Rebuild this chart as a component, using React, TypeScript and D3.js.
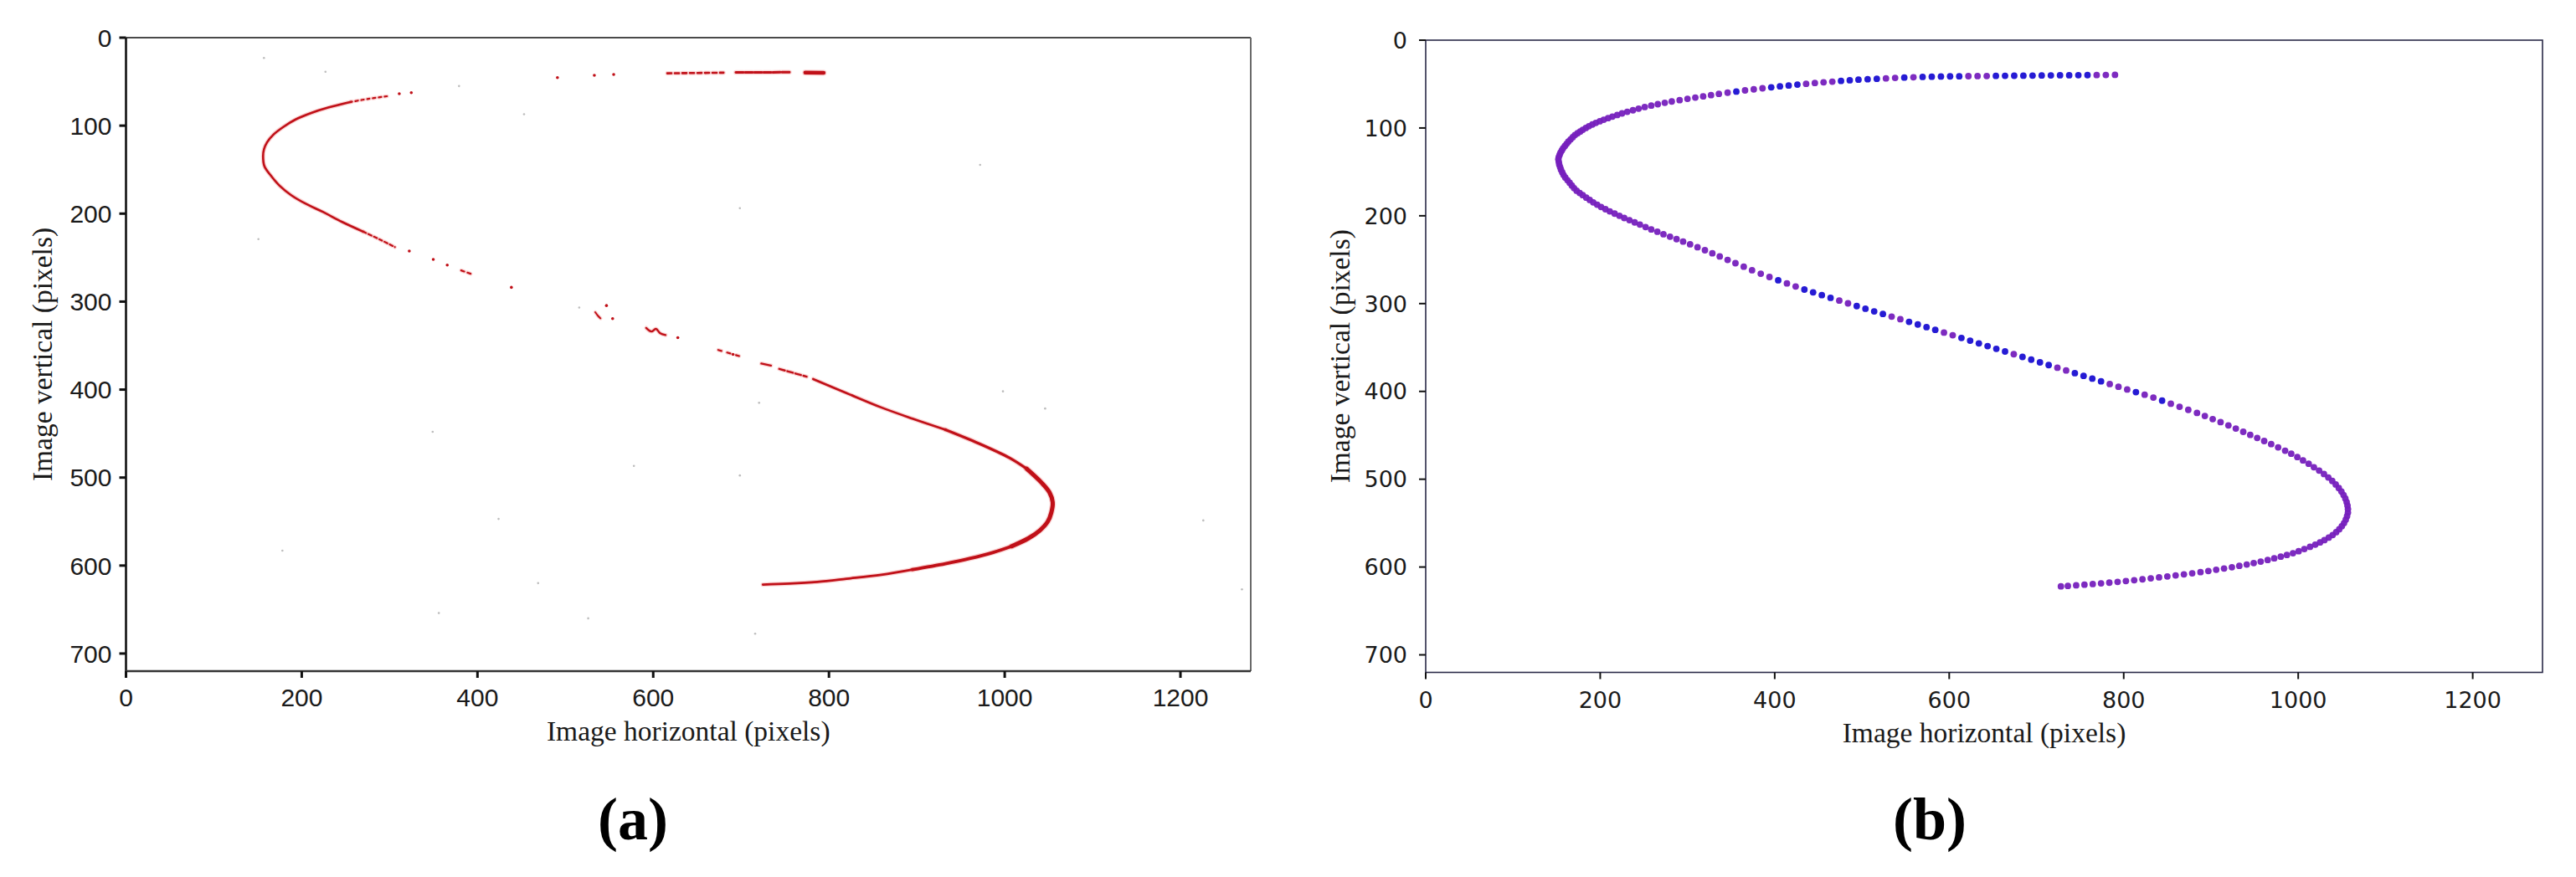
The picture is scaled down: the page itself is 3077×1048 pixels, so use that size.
import React from 'react';
import * as d3 from 'd3';

// ---------- axes ----------
const X_TICKS = [0, 200, 400, 600, 800, 1000, 1200];
const Y_TICKS = [0, 100, 200, 300, 400, 500, 600, 700];
const X_DOMAIN = [0, 1280];
const Y_DOMAIN = [0, 720];
const X_LABEL = 'Image horizontal (pixels)';
const Y_LABEL = 'Image vertical (pixels)';
const PANEL_LABELS = ['(a)', '(b)'];

// ---------- panel (b): fitted dots (image pixels) ----------
const DOT_X = [
  790, 779.5, 769, 758.5, 748, 737.5, 727, 716.5, 706, 695.5, 685, 674.5, 664, 653.5, 643, 632.5, 622, 611.5, 601, 590.5,
  580, 569.5, 559, 548.5, 538, 527.5, 517, 506.5, 496, 486, 476, 466, 456, 446, 436, 426, 416, 406, 396, 386,
  376, 366, 356, 346, 336, 327, 318, 309, 300, 291, 282, 274, 266, 258.5, 251, 244, 237.5, 231, 225, 219.5,
  214, 209, 204, 199.5, 195, 191, 187, 183.5, 180, 177, 174, 171, 168.5, 166, 163.5, 161.5, 159.5, 157.5, 156, 154.5,
  153.5, 152.5, 152,
  152.5, 153, 154, 155, 156.5, 158, 160, 162.5, 165, 167.5, 170, 173, 176.5, 180, 184, 188, 192, 196.5, 201, 206,
  211, 216.5, 222, 227.5, 233.5, 239.5, 245.5, 252, 258.5, 265.5, 272.5, 280, 287.5, 295, 303, 311.5, 320, 328.5, 337, 346,
  355, 364.5, 374, 384, 394, 404, 414, 424, 434, 444, 454, 464, 474, 484, 494, 504, 514, 524, 534, 544,
  554, 564, 574, 584, 594, 604, 614, 624, 634, 644, 654, 664, 674, 684, 694, 704, 714, 724, 734, 744,
  754, 764, 774, 784, 794, 804, 814, 824, 834, 844, 854, 864, 874, 884, 893, 902, 911, 920, 928.5, 937,
  945, 953, 961, 969, 977, 985, 992, 999, 1005.5, 1012, 1018, 1024, 1029.5, 1034.5, 1039, 1043, 1046.5, 1049.5, 1052, 1054,
  1055.5, 1056.5, 1057, 1057, 1056, 1054.5, 1052.5, 1050, 1047, 1043.5, 1039.5, 1035, 1030, 1025, 1019.5, 1013.5, 1007, 1000.5, 994, 987,
  980, 972.5, 965, 957, 949, 941, 932.5, 924, 915, 906, 897, 888, 878.5, 869, 859.5, 850, 840.5, 831, 821.5, 812,
  802.5, 793, 783.5, 774, 764.5, 755, 745.5, 736, 728,
];
const DOT_Y = [
  39.5, 39.6, 39.7, 39.8, 39.9, 40, 40, 40.1, 40.2, 40.3, 40.4, 40.5, 40.6, 40.7, 40.8, 40.9, 41, 41.1, 41.2, 41.4,
  41.6, 41.9, 42.2, 42.6, 43, 43.5, 44, 44.5, 45, 45.7, 46.4, 47.2, 48, 48.8, 49.7, 50.6, 51.6, 52.6, 53.7, 54.8,
  56, 57.2, 58.5, 59.8, 61.2, 62.6, 64, 65.4, 66.8, 68.3, 69.8, 71.3, 72.9, 74.5, 76.2, 78, 79.8, 81.6, 83.4, 85.2,
  87, 88.8, 90.6, 92.4, 94.2, 96, 98, 100, 102, 104, 106, 108, 110.5, 113, 115.5, 118, 120.5, 123, 125.5, 128,
  130.5, 133, 135.5,
  138.5, 141.5, 144.5, 147.5, 150.5, 153.5, 156.5, 159.5, 162.5, 165.5, 168.5, 171.5, 174, 176.5, 179.3, 182, 184.7, 187.3, 190, 192.5,
  195, 197.5, 200, 202.5, 205, 207.5, 210, 212.8, 215.5, 218.2, 221, 223.8, 226.6, 229.4, 232.5, 235.8, 239.2, 242.7, 246.3, 250.2,
  254, 258, 262, 266, 269.7, 273.4, 277, 280.5, 284, 287.2, 290.4, 293.5, 296.6, 299.7, 302.8, 305.8, 308.8, 311.8, 314.8, 317.8,
  320.8, 323.8, 326.8, 329.9, 333, 336, 339.1, 342.2, 345.3, 348.4, 351.5, 354.5, 357.6, 360.7, 363.8, 366.9, 370, 373, 376.1, 379.2,
  382.3, 385.4, 388.5, 391.6, 394.7, 397.8, 400.8, 403.8, 407, 410.5, 414, 417.5, 421, 424.5, 428, 431.5, 435, 438.7, 442.3, 446,
  449.5, 453, 456.5, 460, 463.7, 467.5, 471, 474.8, 478.6, 482.4, 486.3, 490.2, 494.1, 498, 502, 506, 510, 514, 518, 522,
  526, 530, 534, 538, 542, 546, 550, 553.5, 557, 560.3, 563.5, 566.5, 569.4, 572, 574.5, 577, 579.5, 582, 584.3, 586.3,
  588.2, 590.1, 592, 593.8, 595.5, 597.1, 598.7, 600.2, 601.7, 603.1, 604.5, 605.8, 607.1, 608.3, 609.5, 610.7, 611.8, 612.9, 614, 615,
  616, 616.9, 617.8, 618.6, 619.4, 620.1, 620.8, 621.5, 622,
];
// colour runs along the dot sequence: [class, count]
const DOT_COLOR_RUNS: [string, number][] = [
  ['p', 3], ['b', 11], ['p', 3], ['b', 5], ['p', 1], ['b', 1], ['p', 2], ['b', 5], ['p', 4], ['b', 4],
  ['p', 3], ['b', 1], ['p', 4], ['p', 36],
  ['p', 45], ['b', 1], ['p', 2], ['b', 4], ['p', 2], ['b', 4], ['p', 2], ['b', 4], ['p', 2], ['b', 6],
  ['p', 1], ['b', 4], ['p', 2], ['b', 4], ['p', 3], ['b', 1], ['p', 2], ['b', 1], ['p', 79],
];

// ---------- panel (a): detected red trace (image pixels) ----------
const RED_TOP_SPARSE = [[616, 40.5], [680, 39.8]];
const RED_TOP_DENSE = [[694, 39.5], [755, 39.3]];
const RED_TOP_SOLID = [[773, 39.8], [794, 39.9]];
const RED_ARC_TOP = [[297, 66.6], [276, 69.5], [256, 73]];
const RED_ARC_CORE = [
  [256, 73], [230, 79.5], [210.8, 85.6], [193, 93], [179, 101.5], [168, 110], [160.5, 119], [157, 127], [156, 134.8],
  [157.5, 146], [165, 157], [175, 168.5], [188, 179], [205, 189], [224, 198], [246, 209.5], [270, 220.5],
];
const RED_ARC_BOTTOM = [[270, 220.5], [290, 230], [306, 238]];
const RED_SHORT_A = [[381.4, 264.5], [395.4, 269.5]];
const RED_CLUSTER = [[534, 312], [537, 316], [540, 319]];
const RED_SCRIBBLE = [[592, 330], [598, 334], [603, 331], [608, 336], [614, 338]];
const RED_MID_A = [[674, 355], [701.7, 363]];
const RED_MID_B = [[723, 370.4], [734, 372.7]];
const RED_MID_C = [[743.4, 376.5], [774.6, 385.3]];
const RED_LOW_1 = [[782, 388], [820, 404], [859.5, 420.3], [895, 433], [932.5, 445.6]];
const RED_LOW_2 = [[932.5, 445.6], [970, 461], [1005, 477.4], [1025, 490]];
const RED_LOW_3 = [
  [1025, 490], [1042, 505.9], [1051, 517], [1054.6, 528], [1053, 540], [1049, 550], [1040, 560], [1027, 569], [1008, 578],
];
const RED_LOW_4 = [[1008, 578], [987, 585], [960, 592], [932.5, 597.8], [895, 604.5]];
const RED_LOW_5 = [[895, 604.5], [859.5, 610.5], [820, 615], [786.7, 618.5], [755, 620.5], [724.8, 621.6]];
const RED_DOTS = [
  [491, 45.4], [533, 42.8], [555, 41.9], [324.7, 62.5], [311, 63.7], [322.4, 242.6], [349.7, 252], [365.6, 258.5],
  [438.6, 283.8], [546.8, 304.5], [553.8, 319.4], [628, 341], [690.8, 360],
];
const GRAY_SPECKS = [
  [157, 23], [227, 38.7], [379, 55], [453, 87], [150.7, 229], [349, 448], [578, 486.8], [424, 547], [178, 583],
  [469, 620], [356, 654], [526, 660], [972, 144.6], [698.6, 193.8], [720.5, 415], [998, 402], [1046, 421.5],
  [698.6, 497.6], [1226, 548.7], [1270, 627], [716, 677.5], [515.8, 306.7],
];

const BLUE = '#1a0fd2';
const PURPLE = '#7620bd';
const RED = '#c01018';

function expandRuns(runs: [string, number][]): string[] {
  const out: string[] = [];
  runs.forEach(([c, n]) => { for (let i = 0; i < n; i++) out.push(c); });
  return out;
}

type Frame = { x0: number; x1: number; y0: number; y1: number };

function Axes({ f, variant, labelX, label }: { f: Frame; variant: 'a' | 'b'; labelX: number; label: string }) {
  const x = d3.scaleLinear().domain(X_DOMAIN).range([f.x0, f.x1]);
  const y = d3.scaleLinear().domain(Y_DOMAIN).range([f.y0, f.y1]);
  const tickFont = variant === 'a' ? '"Liberation Sans", Arial, sans-serif' : '"DejaVu Sans", Verdana, sans-serif';
  const tickSize = variant === 'a' ? 30 : 27;
  const tickW = variant === 'a' ? 3 : 2;
  const tickLen = 8;
  const cx = (f.x0 + f.x1) / 2;
  const cy = (f.y0 + f.y1) / 2;
  const yTitleX = variant === 'a' ? 62 : 1612;
  return (
    <g>
      {variant === 'a' ? (
        <g>
          <line x1={f.x0} y1={f.y0} x2={f.x1} y2={f.y0} stroke="#4a4a4a" strokeWidth={2.2} />
          <line x1={f.x1} y1={f.y0} x2={f.x1} y2={f.y1} stroke="#6a6a6a" strokeWidth={2} />
          <line x1={f.x0} y1={f.y0} x2={f.x0} y2={f.y1 + 1} stroke="#111" strokeWidth={2.6} />
          <line x1={f.x0 - 1} y1={f.y1} x2={f.x1} y2={f.y1} stroke="#333" strokeWidth={2.6} />
        </g>
      ) : (
        <rect x={f.x0} y={f.y0} width={f.x1 - f.x0} height={f.y1 - f.y0} fill="none" stroke="#2a2a48" strokeWidth={1.6} />
      )}
      {Y_TICKS.map((t) => (
        <g key={'y' + t}>
          <line x1={f.x0 - tickLen} x2={f.x0} y1={y(t)} y2={y(t)} stroke="#111" strokeWidth={tickW} />
          <text x={f.x0 - (variant === 'a' ? 17 : 22)} y={y(t)} dy="0.36em" textAnchor="end"
            fontFamily={tickFont} fontSize={tickSize} fill="#1a1a1a">{t}</text>
        </g>
      ))}
      {X_TICKS.map((t) => (
        <g key={'x' + t}>
          <line x1={x(t)} x2={x(t)} y1={f.y1} y2={f.y1 + tickLen} stroke="#111" strokeWidth={tickW} />
          <text x={x(t)} y={f.y1 + 42} textAnchor="middle"
            fontFamily={tickFont} fontSize={tickSize} fill="#1a1a1a">{t}</text>
        </g>
      ))}
      <text x={cx} y={f.y1 + 83} textAnchor="middle" fontFamily='"Liberation Serif", "Times New Roman", serif'
        fontSize={33.5} fill="#1a1a1a">{X_LABEL}</text>
      <text transform={`translate(${yTitleX},${cy}) rotate(-90)`} textAnchor="middle"
        fontFamily='"Liberation Serif", "Times New Roman", serif' fontSize={33.5} fill="#1a1a1a">{Y_LABEL}</text>
      <text x={labelX} y={1003} textAnchor="middle" fontFamily='"Liberation Serif", "Times New Roman", serif'
        fontWeight="bold" fontSize={72} fill="#000">{label}</text>
    </g>
  );
}

function PanelA({ f }: { f: Frame }) {
  const x = d3.scaleLinear().domain(X_DOMAIN).range([f.x0, f.x1]);
  const y = d3.scaleLinear().domain(Y_DOMAIN).range([f.y0, f.y1]);
  const line = d3.line<number[]>().x((d) => x(d[0])).y((d) => y(d[1])).curve(d3.curveCatmullRom.alpha(0.5));
  const pieces: { d: number[][]; w: number; dash?: string }[] = [
    { d: RED_TOP_SPARSE, w: 2.6, dash: '5 4' },
    { d: RED_TOP_DENSE, w: 3, dash: '9 2' },
    { d: RED_TOP_SOLID, w: 4.5 },
    { d: RED_ARC_TOP, w: 2.2, dash: '3 4' },
    { d: RED_ARC_CORE, w: 2.6 },
    { d: RED_ARC_BOTTOM, w: 2.2, dash: '4 3' },
    { d: RED_SHORT_A, w: 2.2, dash: '4 4' },
    { d: RED_CLUSTER, w: 2 },
    { d: RED_SCRIBBLE, w: 2.4 },
    { d: RED_MID_A, w: 2.2, dash: '4 7' },
    { d: RED_MID_B, w: 2.4 },
    { d: RED_MID_C, w: 2.4, dash: '7 3' },
    { d: RED_LOW_1, w: 2.6 },
    { d: RED_LOW_2, w: 3.2 },
    { d: RED_LOW_3, w: 5 },
    { d: RED_LOW_4, w: 3.8 },
    { d: RED_LOW_5, w: 2.8 },
  ];
  return (
    <g>
      {GRAY_SPECKS.map((p, i) => (
        <circle key={'g' + i} cx={x(p[0])} cy={y(p[1])} r={1.3} fill="#bdbdbd" />
      ))}
      {pieces.map((p, i) => (
        <path key={'h' + i} d={line(p.d) || ''} fill="none" stroke="#f08080" strokeOpacity={0.35}
          strokeWidth={p.w + 2.5} strokeDasharray={p.dash} strokeLinecap="round" />
      ))}
      {pieces.map((p, i) => (
        <path key={'p' + i} d={line(p.d) || ''} fill="none" stroke={RED} strokeWidth={p.w}
          strokeDasharray={p.dash} strokeLinecap="round" />
      ))}
      {RED_DOTS.map((p, i) => (
        <circle key={'r' + i} cx={x(p[0])} cy={y(p[1])} r={1.8} fill={RED} />
      ))}
    </g>
  );
}

function PanelB({ f }: { f: Frame }) {
  const x = d3.scaleLinear().domain(X_DOMAIN).range([f.x0, f.x1]);
  const y = d3.scaleLinear().domain(Y_DOMAIN).range([f.y0, f.y1]);
  const colors = expandRuns(DOT_COLOR_RUNS);
  return (
    <g>
      {DOT_X.map((vx, i) => (
        <circle key={i} cx={x(vx)} cy={y(DOT_Y[i])} r={3.9}
          fill={colors[i] === 'b' ? BLUE : PURPLE} fillOpacity={0.95} />
      ))}
    </g>
  );
}

export default function App() {
  const W = 3077;
  const H = 1048;
  const fa: Frame = { x0: 150.5, x1: 1494, y0: 45, y1: 802 };
  const fb: Frame = { x0: 1703, x1: 3037, y0: 48, y1: 803.5 };
  return (
    <svg width={W} height={H} viewBox={`0 0 ${W} ${H}`}
      style={{ position: 'absolute', left: 0, top: 0, background: '#fff' }}>
      <rect x={0} y={0} width={W} height={H} fill="#fff" />
      <PanelA f={fa} />
      <Axes f={fa} variant="a" labelX={756} label={PANEL_LABELS[0]} />
      <PanelB f={fb} />
      <Axes f={fb} variant="b" labelX={2305} label={PANEL_LABELS[1]} />
    </svg>
  );
}
